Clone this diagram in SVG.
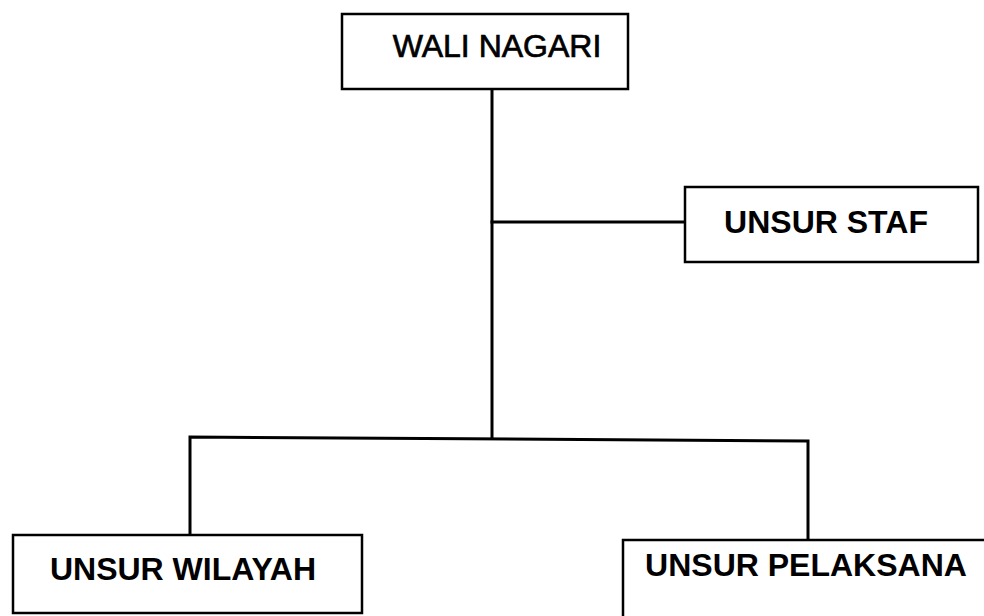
<svg xmlns="http://www.w3.org/2000/svg" width="984" height="616" viewBox="0 0 984 616">
<style>
.box{fill:#fff;stroke:#000;stroke-width:2.5}
.lbl{font-family:"Liberation Sans",Arial,sans-serif;font-size:32px;fill:#000;text-anchor:middle}
.b{font-weight:bold}
.m{stroke:#000;stroke-width:0.7}
.con{fill:none;stroke:#000;stroke-width:3;stroke-linecap:square}
</style>
<rect width="984" height="616" fill="#fff"/>
<g id="connectors">
<path class="con" d="M492 89 V437"/>
<path class="con" d="M492 222 H685"/>
<path class="con" d="M190 535 V437 L808 441 V540"/>
</g>
<g id="wali-nagari">
<rect class="box" x="342" y="14" width="286" height="75"/>
<text class="lbl m" x="497" y="57">WALI NAGARI</text>
</g>
<g id="unsur-staf">
<rect class="box" x="685" y="187" width="293" height="75"/>
<text class="lbl b" x="826" y="233">UNSUR STAF</text>
</g>
<g id="unsur-wilayah">
<rect class="box" x="13" y="535" width="349" height="78"/>
<text class="lbl b" x="183" y="580">UNSUR WILAYAH</text>
</g>
<g id="unsur-pelaksana">
<rect class="box" x="623" y="540" width="380" height="90"/>
<text class="lbl b" x="806" y="576">UNSUR PELAKSANA</text>
</g>
</svg>
